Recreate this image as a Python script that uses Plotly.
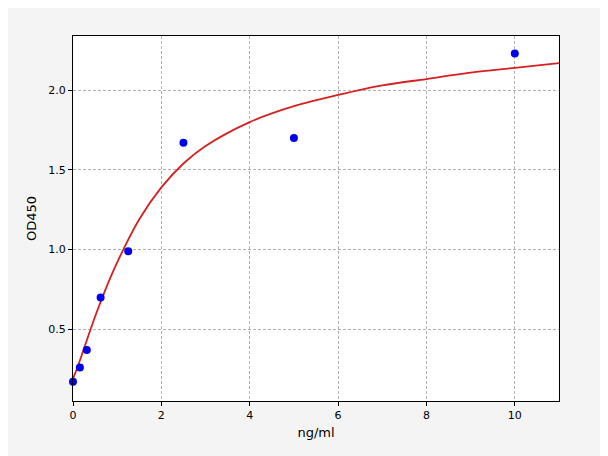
import plotly.graph_objects as go

conc = [0, 0.156, 0.3125, 0.625, 1.25, 2.5, 5, 10]
od = [0.17, 0.26, 0.37, 0.70, 0.99, 1.67, 1.70, 2.23]

# fitted curve
fit_x = [0, 0.1, 0.25, 0.5, 0.75, 1, 1.5, 2, 2.5, 3, 4, 5, 6, 7, 8, 9, 10, 11]
fit_y = [0.19, 0.26, 0.38, 0.58, 0.76, 0.92, 1.19, 1.39, 1.54, 1.65, 1.80, 1.90, 1.97, 2.03, 2.07, 2.11, 2.14, 2.17]

fig = go.Figure()
fig.add_trace(go.Scatter(x=fit_x, y=fit_y, mode="lines", line=dict(color="#d62020", width=1.8, shape="spline")))
fig.add_trace(go.Scatter(x=conc, y=od, mode="markers", marker=dict(color="#0000ee", size=8), cliponaxis=False))

axis = dict(showline=True, linecolor="black", mirror=True, ticks="outside", ticklen=4,
            tickcolor="black", showgrid=True, gridcolor="#b0b0b0", griddash="3px,2px", zeroline=False)
fig.update_xaxes(range=[0, 11], dtick=2, title=dict(text="ng/ml", standoff=6), **axis)
fig.update_yaxes(range=[0.05, 2.34], tickvals=[0.5, 1.0, 1.5, 2.0], tickformat=".1f",
                 title=dict(text="OD450", standoff=8), **axis)
fig.update_layout(width=608, height=456, showlegend=False,
                  paper_bgcolor="#f4f4f4", plot_bgcolor="white",
                  margin=dict(l=65, r=57, t=28, b=63),
                  font=dict(family="DejaVu Sans", size=11, color="black"))
fig.write_html("out.html")
